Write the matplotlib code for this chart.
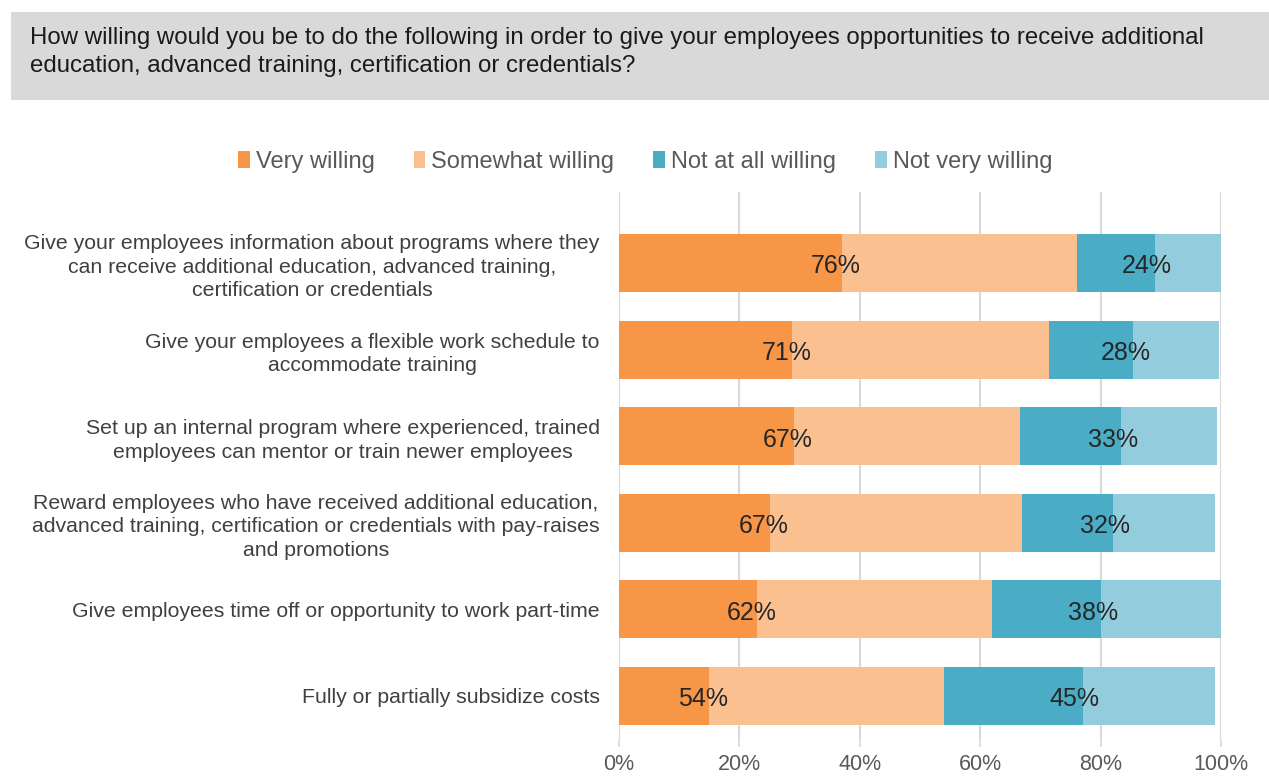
import matplotlib.pyplot as plt
from matplotlib.patches import Rectangle, Patch

plt.rcParams['font.family'] = ['Liberation Sans', 'DejaVu Sans']

categories = [
    "Give your employees information about programs where they\ncan receive additional education, advanced training,\ncertification or credentials",
    "Give your employees a flexible work schedule to\naccommodate training",
    "Set up an internal program where experienced, trained\nemployees can mentor or train newer employees",
    "Reward employees who have received additional education,\nadvanced training, certification or credentials with pay-raises\nand promotions",
    "Give employees time off or opportunity to work part-time",
    "Fully or partially subsidize costs",
]

# percent of respondents per answer
very_willing = [37, 28.8, 29, 25, 23, 15]
somewhat_willing = [39, 42.6, 37.6, 42, 39, 39]
not_at_all_willing = [13, 14.0, 16.8, 15, 18, 23]
not_very_willing = [11, 14.2, 16.0, 17, 20, 22]

series_names = ["Very willing", "Somewhat willing", "Not at all willing", "Not very willing"]
colors = ["#F79646", "#FAC090", "#4BACC6", "#93CDDD"]

title = ("How willing would you be to do the following in order to give your employees opportunities to receive additional\n"
         "education, advanced training, certification or credentials?")

fig = plt.figure(figsize=(12.69, 7.76), dpi=100)

# grey header band
fig.patches.append(Rectangle((11 / 1269, 1 - 100 / 776), 1 - 11 / 1269, 88 / 776,
                             transform=fig.transFigure, facecolor="#D9D9D9", edgecolor="none", zorder=0))
fig.text(30 / 1269, 1 - 52 / 776, title, fontsize=17.3, color="#1a1a1a", va="center", ha="left",
         linespacing=1.4)

ax = fig.add_axes([619 / 1269, 1 - 739 / 776, 602 / 1269, (739 - 192) / 776])

y = list(range(len(categories)))
h = 0.67
series = [very_willing, somewhat_willing, not_at_all_willing, not_very_willing]
left = [0] * len(categories)
for vals, name, c in zip(series, series_names, colors):
    ax.barh(y, vals, left=left, height=h, color=c, label=name, zorder=3)
    left = [l + v for l, v in zip(left, vals)]

# data labels: willing total and not-willing total
for i in y:
    pos = very_willing[i] + somewhat_willing[i]
    neg = not_at_all_willing[i] + not_very_willing[i]
    ax.text(very_willing[i] - 1, i + 0.04, f"{round(pos)}%", ha="center", va="center",
            fontsize=18, color="#262626", zorder=4)
    ax.text(pos + not_at_all_willing[i] - 1.3, i + 0.04, f"{round(neg)}%", ha="center", va="center",
            fontsize=18, color="#262626", zorder=4)

ax.set_xlim(0, 100)
ax.set_ylim(5.5, -0.82)
ax.set_xticks(range(0, 101, 20))
ax.set_xticklabels([f"{t}%" for t in range(0, 101, 20)], fontsize=15.5, color="#595959")
ax.set_yticks(y)
ax.set_yticklabels(categories, fontsize=15.3, color="#404040", multialignment="center",
                   linespacing=1.3)
ax.tick_params(axis="y", length=0, pad=14)
ax.tick_params(axis="x", length=6, color="#D9D9D9", width=1.2, pad=5)
ax.grid(axis="x", color="#D9D9D9", linewidth=1.5, zorder=0)
for s in ax.spines.values():
    s.set_visible(False)

handles = [Patch(facecolor=c, edgecolor="none") for c in colors]
fig.legend(handles, series_names, loc="center", bbox_to_anchor=(645 / 1269, 1 - 162 / 776), ncol=4,
           frameon=False, fontsize=17, handlelength=0.5, handleheight=0.7, handletextpad=0.25,
           columnspacing=1.65, labelcolor="#595959")

fig.savefig("out.png", dpi=100)
